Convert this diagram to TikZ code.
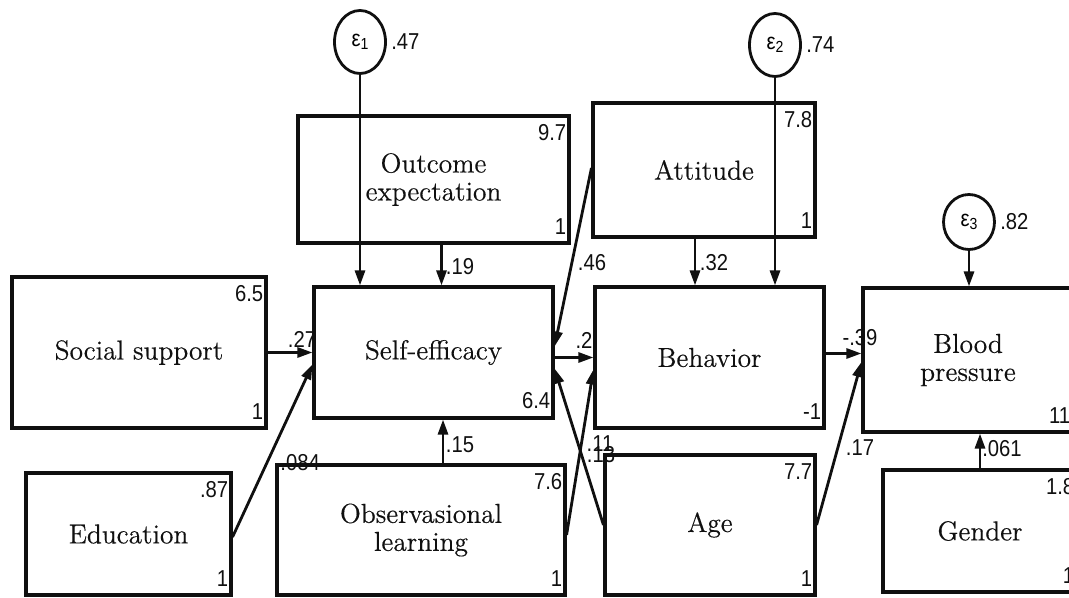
\documentclass[tikz,border=0pt]{standalone}
\usepackage{fontspec}
\newfontfamily\semnumfont[FakeStretch=0.88]{Liberation Sans}
\newfontfamily\semlabelfont[FakeBold=0.4]{Latin Modern Roman}
\usetikzlibrary{arrows.meta,shapes.geometric}
\definecolor{SemInk}{HTML}{101010}
\newcommand\semlabel{\semlabelfont\fontsize{13.7}{14}\selectfont}
\newcommand\semnum{\semnumfont\fontsize{11.5}{12}\selectfont}
\newcommand\semeps[1]{ε\raisebox{-1.5pt}{\fontsize{8}{8}\selectfont #1}}
\tikzset{
  sem/box/.style={
    draw=SemInk, line width=1.55pt, inner sep=0pt,
    font=\semlabel, text=SemInk, align=center
  },
  sem/err/.style={
    draw=SemInk, line width=1.4pt, ellipse, inner sep=0pt,
    minimum width=25.5pt, minimum height=31.5pt, font=\semnum
  },
  sem/arrow/.style={
    -{Triangle[length=7.5pt,width=5pt]}, line width=1.4pt, draw=SemInk
  },
  sem/num/.style={font=\semnum, text=SemInk, inner sep=0pt},
  sem/top/.style={sem/num, anchor=north east},
  sem/bot/.style={sem/num, anchor=south east}
}

\begin{document}
\begin{tikzpicture}[x=0.5pt,y=-0.5pt]
  \useasboundingbox (0,0) rectangle (1069,598);
  \clip (0,0) rectangle (1069,598);
  % observed variables
  \node[sem/box,minimum width=127pt,minimum height=75.5pt] (social) at (139,352.5) {Social support};
  \node[sem/box,minimum width=102.5pt,minimum height=61pt] (education) at (128.5,534) {Education};
  \node[sem/box,minimum width=135.5pt,minimum height=63.5pt] (outcome) at (433.5,179.5) {Outcome\\expectation};
  \node[sem/box,minimum width=119.5pt,minimum height=65.5pt] (selfeff) at (433.5,352.5) {Self-efficacy};
  \node[sem/box,minimum width=144pt,minimum height=65pt] (obs) at (421,530) {Observasional\\learning};
  \node[sem/box,minimum width=111pt,minimum height=67pt] (attitude) at (704,170) {Attitude};
  \node[sem/box,minimum width=114.5pt,minimum height=70.5pt] (behavior) at (709.5,357.5) {Behavior};
  \node[sem/box,minimum width=105pt,minimum height=70pt] (age) at (710,525) {Age};
  \node[sem/box,minimum width=105pt,minimum height=72pt] (bp) at (968,360) {Blood\\pressure};
  \node[sem/box,minimum width=97pt,minimum height=61pt] (gender) at (980,531) {Gender};
  % error terms
  \node[sem/err] (e1) at (360,42) {\semeps{1}};
  \node[sem/err] (e2) at (775,45) {\semeps{2}};
  \node[sem/err,minimum height=27.5pt] (e3) at (969,222) {\semeps{3}};
  \node[sem/num,anchor=west] (e1-var) at ([xshift=2pt]e1.east) {.47};
  \node[sem/num,anchor=west] (e2-var) at ([xshift=2pt]e2.east) {.74};
  \node[sem/num,anchor=west] (e3-var) at ([xshift=2pt]e3.east) {.82};
  % intercepts and scales
  \node[sem/top] (social-mu) at ([shift={(-2pt,-5pt)}]social.north east) {6.5};
  \node[sem/bot] (social-sc) at ([shift={(-2pt,5pt)}]social.south east) {1};
  \node[sem/top] (education-mu) at ([shift={(-2pt,-5pt)}]education.north east) {.87};
  \node[sem/bot] (education-sc) at ([shift={(-2pt,5pt)}]education.south east) {1};
  \node[sem/top] (outcome-mu) at ([shift={(-2pt,-5pt)}]outcome.north east) {9.7};
  \node[sem/bot] (outcome-sc) at ([shift={(-2pt,5pt)}]outcome.south east) {1};
  \node[sem/bot] (selfeff-mu) at ([shift={(-2pt,5pt)}]selfeff.south east) {6.4};
  \node[sem/top] (obs-mu) at ([shift={(-2pt,-5pt)}]obs.north east) {7.6};
  \node[sem/bot] (obs-sc) at ([shift={(-2pt,5pt)}]obs.south east) {1};
  \node[sem/top] (attitude-mu) at ([shift={(-2pt,-5pt)}]attitude.north east) {7.8};
  \node[sem/bot] (attitude-sc) at ([shift={(-2pt,5pt)}]attitude.south east) {1};
  \node[sem/bot] (behavior-mu) at ([shift={(-2pt,5pt)}]behavior.south east) {-1};
  \node[sem/top] (age-mu) at ([shift={(-2pt,-5pt)}]age.north east) {7.7};
  \node[sem/bot] (age-sc) at ([shift={(-2pt,5pt)}]age.south east) {1};
  \node[sem/bot] (bp-mu) at ([shift={(-2pt,5pt)}]bp.south east) {11};
  \node[sem/top] (gender-mu) at ([shift={(-2pt,-5pt)}]gender.north east) {1.8};
  \node[sem/bot] (gender-sc) at ([shift={(-2pt,5pt)}]gender.south east) {1};
  % paths
  \coordinate (oe-s) at ([xshift=4pt]outcome.south);
  \coordinate (ob-n) at ([xshift=11pt]obs.north);
  \coordinate (at-s) at ([xshift=-4.5pt]attitude.south);
  \coordinate (bh-e) at ([yshift=2pt]behavior.east);
  \draw[sem/arrow] (e1) -- (e1 |- selfeff.north);
  \draw[sem/arrow] (oe-s) -- (oe-s |- selfeff.north);
  \draw[sem/arrow] (social.east) -- (social.east -| selfeff.west);
  \draw[sem/arrow] ([yshift=-1.5pt]education.east) -- ([yshift=-6pt]selfeff.west);
  \draw[sem/arrow] (ob-n) -- (ob-n |- selfeff.south);
  \draw[sem/arrow] ([yshift=1pt]attitude.west) -- ([yshift=3pt]selfeff.east);
  \draw[sem/arrow] (age.west) -- ([yshift=-8pt]selfeff.east);
  \draw[sem/arrow] (selfeff.east |- behavior.west) -- (behavior.west);
  \draw[sem/arrow] ([yshift=-2.5pt]obs.east) -- ([yshift=-6pt]behavior.west);
  \draw[sem/arrow] (at-s) -- (at-s |- behavior.north);
  \draw[sem/arrow] (e2) -- (e2 |- behavior.north);
  \draw[sem/arrow] (bh-e) -- (bh-e -| bp.west);
  \draw[sem/arrow] (age.east) -- ([yshift=-1pt]bp.west);
  \draw[sem/arrow] (e3) -- (e3 |- bp.north);
  \draw[sem/arrow] (gender.north) -- (gender.north |- bp.south);
  % coefficients
  \node[sem/num] (c-social) at (302,339) {.27};
  \node[sem/num,anchor=base west] (c-education) at (280,470) {.084};
  \node[sem/num] (c-outcome) at (460,267) {.19};
  \node[sem/num] (c-obs) at (460,445) {.15};
  \node[sem/num] (c-attitude) at (592,263) {.46};
  \node[sem/num] (c-attbeh) at (714,263) {.32};
  \node[sem/num] (c-selfeff) at (584,340) {.2};
  \node[sem/num] (c-ageself) at (600,444) {.11};
  \node[sem/num] (c-obsbeh) at (601,455) {.13};
  \node[sem/num] (c-behavior) at (860,338) {-.39};
  \node[sem/num] (c-agebp) at (860,448) {.17};
  \node[sem/num] (c-gender) at (1002,449) {.061};
\end{tikzpicture}
\end{document}
